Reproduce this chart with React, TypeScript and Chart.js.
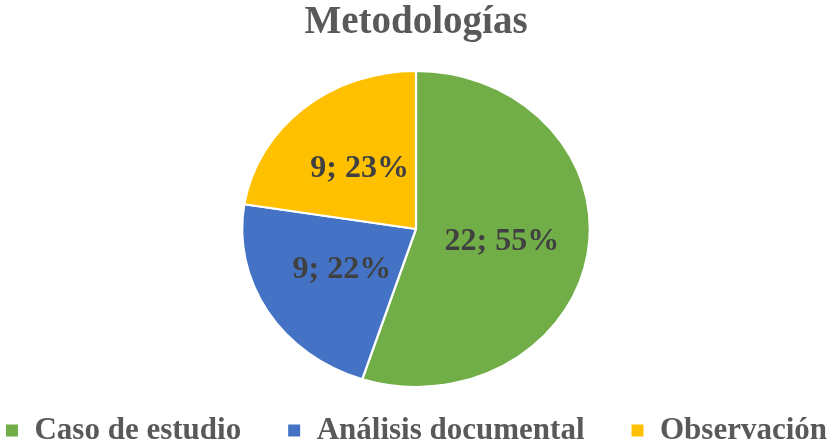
import React, { useEffect, useRef } from "react";
import { Chart, registerables } from "chart.js";

Chart.register(...registerables);

const categories = ["Caso de estudio", "Análisis documental", "Observación"];
const values = [22, 9, 9];
const percentLabels = ["55%", "22%", "23%"];
const colors = ["#72AE48", "#4472C4", "#FFC000"];
const chartTitle = "Metodologías";

const SERIF = '"Liberation Serif", "Times New Roman", serif';
const SX = 1.1; // horizontal stretch of the pie, as in the reference

export default function App() {
  const ref = useRef<HTMLCanvasElement>(null);

  useEffect(() => {
    const canvas = ref.current;
    if (!canvas) return;

    const stretchAndLabels = {
      id: "stretchAndLabels",
      beforeDatasetsDraw(chart: any) {
        const { ctx, chartArea } = chart;
        const cx = (chartArea.left + chartArea.right) / 2;
        ctx.save();
        ctx.translate(cx, 0);
        ctx.scale(SX, 1);
        ctx.translate(-cx, 0);
      },
      afterDatasetsDraw(chart: any) {
        const { ctx, chartArea } = chart;
        ctx.restore();
        const cx = (chartArea.left + chartArea.right) / 2;
        const meta = chart.getDatasetMeta(0);
        ctx.save();
        ctx.font = `bold 32px ${SERIF}`;
        ctx.fillStyle = "#404040";
        ctx.textAlign = "center";
        ctx.textBaseline = "middle";
        meta.data.forEach((arc: any, i: number) => {
          const p = arc.getCenterPoint();
          ctx.fillText(`${values[i]}; ${percentLabels[i]}`, cx + (p.x - cx) * SX, p.y);
        });
        ctx.restore();
      },
    };

    const chart = new Chart(canvas, {
      type: "pie",
      data: {
        labels: categories,
        datasets: [
          {
            data: values,
            backgroundColor: colors,
            borderColor: "#FFFFFF",
            borderWidth: 2,
            radius: 158,
            clip: false,
          } as any,
        ],
      },
      options: {
        responsive: true,
        maintainAspectRatio: false,
        animation: false,
        events: [],
        layout: { padding: 0 },
        plugins: {
          title: {
            display: true,
            text: chartTitle,
            color: "#595959",
            font: { family: SERIF, size: 39, weight: "bold" },
            padding: { top: 0, bottom: 42 },
          },
          legend: {
            display: true,
            position: "bottom",
            labels: {
              color: "#595959",
              font: { family: SERIF, size: 31, weight: "bold" },
              boxWidth: 14,
              boxHeight: 14,
              padding: 46,
            },
          },
          tooltip: { enabled: false },
        },
      },
      plugins: [stretchAndLabels],
    });

    return () => chart.destroy();
  }, []);

  return (
    <div
      style={{
        position: "fixed",
        left: 0,
        top: 0,
        width: 832,
        height: 445,
        overflow: "hidden",
        background: "#FFFFFF",
      }}
    >
      <div style={{ position: "absolute", left: -64, top: 0, width: 960, height: 456 }}>
        <canvas ref={ref} />
      </div>
    </div>
  );
}
